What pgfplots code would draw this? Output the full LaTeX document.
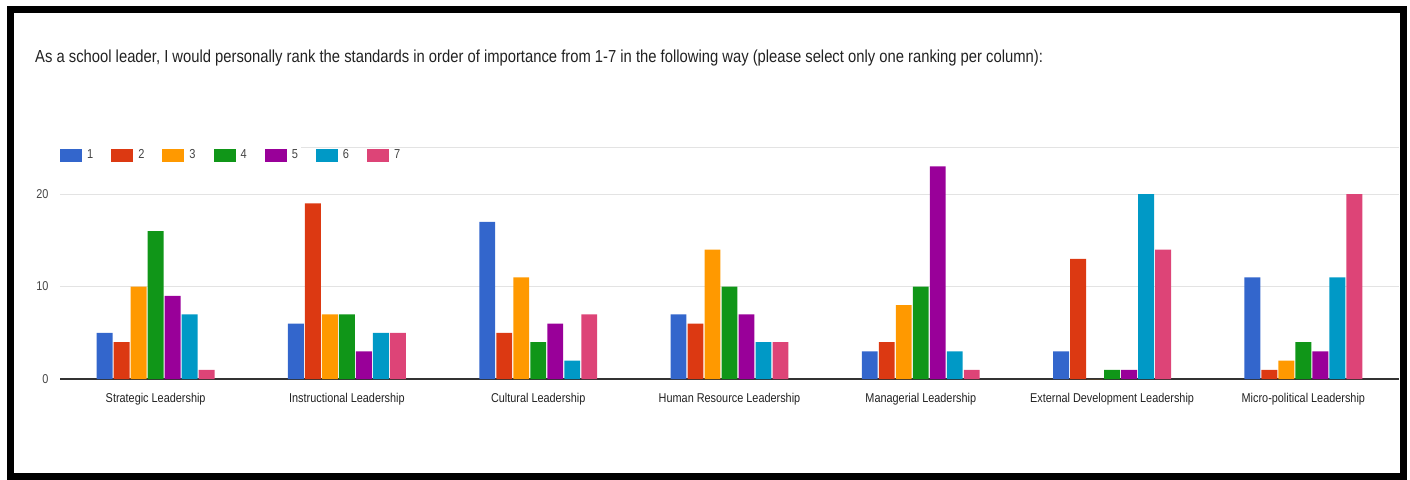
\documentclass[border=0pt]{standalone}
\usepackage{pgfplots}
\pgfplotsset{compat=1.18}
\usepackage{fontspec}
\setmainfont[FakeStretch=0.85]{Liberation Sans}
\definecolor{c1}{HTML}{3366CC}
\definecolor{c2}{HTML}{DC3912}
\definecolor{c3}{HTML}{FF9900}
\definecolor{c4}{HTML}{109618}
\definecolor{c5}{HTML}{990099}
\definecolor{c6}{HTML}{0099C6}
\definecolor{c7}{HTML}{DD4477}
\definecolor{gridc}{HTML}{E3E3E3}
\definecolor{txt}{HTML}{222222}
\definecolor{lab}{HTML}{444444}
\begin{document}
\begin{tikzpicture}[x=1pt,y=1pt]
\useasboundingbox (0,0) rectangle (1410,479);
\node[anchor=west, inner sep=0pt, text=txt, font=\fontsize{17.4}{19}\selectfont] at (35,420.5) {As a school leader, I would personally rank the standards in order of importance from 1-7 in the following way (please select only one ranking per column):};
\begin{axis}[
  at={(60pt,100pt)}, anchor=south west,
  scale only axis, width=1339pt, height=231.25pt,
  xmin=-0.5, xmax=6.5, ymin=0, ymax=25,
  ybar=1.1pt, bar width=15.9pt,
  axis line style={draw=none},
  major tick length=0pt,
  xtick={0,...,6},
  xticklabels={Strategic Leadership, Instructional Leadership, Cultural Leadership, Human Resource Leadership, Managerial Leadership, External Development Leadership, Micro-political Leadership},
  xticklabel style={font=\fontsize{12.8}{14}\selectfont, text=txt, yshift=-11pt},
  ytick={10,20},
  extra y ticks={0},
  extra y tick style={grid style={draw=black!80, line width=1.3pt}},
  ymajorgrids,
  grid style={draw=gridc, line width=1pt},
  yticklabel style={font=\fontsize{12.8}{14}\selectfont, text=lab, xshift=-8pt},
  /pgf/number format/assume math mode=true,
  legend columns=-1,
  legend image code/.code={\fill[#1] (0pt,-6.5pt) rectangle (22pt,6.5pt);},
  legend style={draw=none, fill=none, at={(0,0.968)}, anchor=west, inner sep=0pt,
    nodes={inner sep=0pt, text=lab, font=\fontsize{13}{14}\selectfont},
    /tikz/every odd column/.append style={column sep=5pt},
    /tikz/every even column/.append style={column sep=18pt}},
]
\draw[gridc, line width=1pt] (axis cs:0.76,25) -- (axis cs:6.5,25);
\addplot[fill=c1, draw=none] coordinates {(0,5) (1,6) (2,17) (3,7) (4,3) (5,3) (6,11)};
\addplot[fill=c2, draw=none] coordinates {(0,4) (1,19) (2,5) (3,6) (4,4) (5,13) (6,1)};
\addplot[fill=c3, draw=none] coordinates {(0,10) (1,7) (2,11) (3,14) (4,8) (5,0) (6,2)};
\addplot[fill=c4, draw=none] coordinates {(0,16) (1,7) (2,4) (3,10) (4,10) (5,1) (6,4)};
\addplot[fill=c5, draw=none] coordinates {(0,9) (1,3) (2,6) (3,7) (4,23) (5,1) (6,3)};
\addplot[fill=c6, draw=none] coordinates {(0,7) (1,5) (2,2) (3,4) (4,3) (5,20) (6,11)};
\addplot[fill=c7, draw=none] coordinates {(0,1) (1,5) (2,7) (3,4) (4,1) (5,14) (6,20)};
\legend{1,2,3,4,5,6,7}
\end{axis}
\draw[line width=7pt] (10,2.5) rectangle (1403.5,469.5);
\end{tikzpicture}
\end{document}
